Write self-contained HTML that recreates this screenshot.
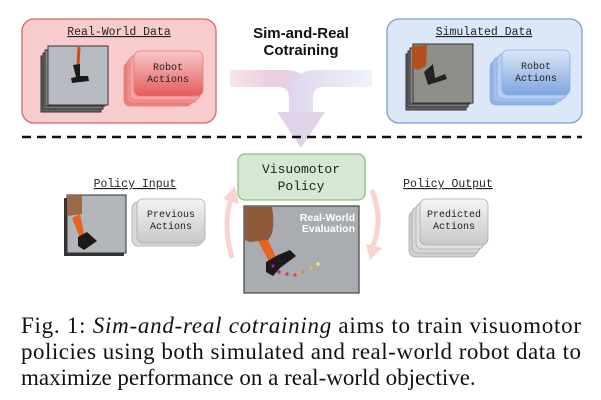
<!DOCTYPE html>
<html><head><meta charset="utf-8"><style>
html,body{margin:0;padding:0;background:#fff;}
svg{display:block;}
.m{font-family:"Liberation Mono",monospace;}
.s{font-family:"Liberation Sans",sans-serif;}
.r{font-family:"Liberation Serif",serif;}
</style></head><body>
<svg width="601" height="400" viewBox="0 0 601 400" xmlns="http://www.w3.org/2000/svg">
<defs>
<linearGradient id="gr" x1="0" y1="0" x2="0" y2="1"><stop offset="0" stop-color="#f8c9c9"/><stop offset="1" stop-color="#e55a5a"/></linearGradient>
<linearGradient id="gb" x1="0" y1="0" x2="0" y2="1"><stop offset="0" stop-color="#dbe7f8"/><stop offset="1" stop-color="#7ea4df"/></linearGradient>
<linearGradient id="gg" x1="0" y1="0" x2="0" y2="1"><stop offset="0" stop-color="#f4f4f4"/><stop offset="1" stop-color="#c8c8c8"/></linearGradient>
<linearGradient id="pl" x1="0" y1="0" x2="1" y2="0"><stop offset="0" stop-color="#fbe3e6"/><stop offset="0.5" stop-color="#e9cfe0"/><stop offset="1" stop-color="#e0d6ec"/></linearGradient>
<linearGradient id="pr" x1="0" y1="0" x2="1" y2="0"><stop offset="0" stop-color="#e0d6ec"/><stop offset="1" stop-color="#eef3fc"/></linearGradient>
</defs>

<rect x="22" y="19" width="194" height="104" rx="12" fill="#f8cccc" stroke="#d46a6a" stroke-width="1.3"/>
<text x="119" y="35" class="m" font-size="11.5" text-anchor="middle" fill="#222" text-decoration="underline">Real-World Data</text>
<g stroke="#333" stroke-width="1">
<rect x="41" y="56" width="60" height="56" fill="#666"/>
<rect x="43" y="53" width="60" height="56" fill="#777"/>
<rect x="45" y="50" width="60" height="56" fill="#888"/>
<rect x="48" y="46" width="60" height="59" fill="#b8bcc2"/>
</g>
<line x1="79" y1="47" x2="78" y2="66" stroke="#d24a20" stroke-width="3"/>
<path d="M73 65 L80 64 L80 76 L88 76 L89 81 L72 83 L71 78 L76 77 Z" fill="#1a1a1a"/>
<g stroke="#e67c7c" stroke-width="0.8">
<rect x="124" y="62" width="68" height="44" rx="6" fill="#ec7b7b"/>
<rect x="127" y="58" width="70" height="45" rx="6" fill="#ef8f8f"/>
<rect x="130" y="55" width="70" height="45" rx="6" fill="#f3a3a3"/>
<rect x="134" y="51" width="69" height="45" rx="6" fill="url(#gr)"/>
</g>
<text x="168" y="70" class="m" font-size="10" text-anchor="middle" fill="#222">Robot</text>
<text x="168" y="82" class="m" font-size="10" text-anchor="middle" fill="#222">Actions</text>

<rect x="387" y="19" width="195" height="104" rx="12" fill="#dce8f8" stroke="#7d9fd6" stroke-width="1.3"/>
<text x="484" y="35" class="m" font-size="11.5" text-anchor="middle" fill="#222" text-decoration="underline">Simulated Data</text>
<g stroke="#333" stroke-width="1">
<rect x="406" y="54" width="60" height="56" fill="#666"/>
<rect x="408" y="51" width="60" height="56" fill="#777"/>
<rect x="410" y="48" width="60" height="56" fill="#888"/>
<rect x="413" y="44" width="60" height="59" fill="#8f8f8a"/>
</g>
<path d="M412 46 L427 45 L426 66 L418 70 L412 68 Z" fill="#b4501c"/>
<path d="M424 72 L433 64 L435 78 L445 74 L447 79 L428 85 Z" fill="#222"/>
<g stroke="#8aaee0" stroke-width="0.8">
<rect x="490" y="61" width="68" height="44" rx="6" fill="#8fb2e6"/>
<rect x="493" y="57" width="70" height="45" rx="6" fill="#a2c0eb"/>
<rect x="497" y="54" width="70" height="45" rx="6" fill="#b7cef0"/>
<rect x="502" y="50" width="68" height="45" rx="6" fill="url(#gb)"/>
</g>
<text x="536" y="69" class="m" font-size="10" text-anchor="middle" fill="#222">Robot</text>
<text x="536" y="81" class="m" font-size="10" text-anchor="middle" fill="#222">Actions</text>

<text x="301" y="38" class="s" font-size="15" font-weight="bold" text-anchor="middle" fill="#111">Sim-and-Real</text>
<text x="301" y="55" class="s" font-size="15" font-weight="bold" text-anchor="middle" fill="#111">Cotraining</text>

<path d="M230 70 L285 70 Q313 70 313 100 L313 112 L289 112 L289 98 Q289 87 278 87 L230 87 Z" fill="url(#pl)"/>
<path d="M372 70 L317 70 Q289 70 289 100 L289 112 L313 112 L313 98 Q313 87 324 87 L372 87 Z" fill="url(#pr)"/>
<path d="M277 112 L325 112 L301 148 Z" fill="#e0d4ea"/>

<line x1="22" y1="137" x2="582" y2="137" stroke="#111" stroke-width="2.5" stroke-dasharray="9,6"/>

<rect x="238" y="154" width="127" height="46" rx="7" fill="#d5e8d4" stroke="#8dc07e" stroke-width="1.3"/>
<text x="301" y="173" class="m" font-size="13" text-anchor="middle" fill="#222">Visuomotor</text>
<text x="301" y="190" class="m" font-size="13" text-anchor="middle" fill="#222">Policy</text>

<text x="135" y="187" class="m" font-size="11.5" text-anchor="middle" fill="#222" text-decoration="underline">Policy Input</text>
<rect x="64" y="198" width="60" height="58" fill="#333"/>
<rect x="67" y="195" width="59" height="58" fill="#b3b6ba" stroke="#333"/>
<path d="M67 195 L82 195 L82 214 L67 216 Z" fill="#9a6a48"/>
<path d="M72 218 L80 214 L85 238 L81 240 Z" fill="#e8631e"/>
<path d="M78 237 L87 232 L97 241 L84 250 L78 246 Z" fill="#1a1a1a"/>
<g stroke="#aaa" stroke-width="0.8">
<rect x="132" y="202" width="70" height="44" rx="6" fill="#d8d8d8"/>
<rect x="137" y="199" width="68" height="44" rx="6" fill="url(#gg)"/>
</g>
<text x="171" y="217" class="m" font-size="10" text-anchor="middle" fill="#222">Previous</text>
<text x="171" y="229" class="m" font-size="10" text-anchor="middle" fill="#222">Actions</text>

<rect x="244" y="206" width="115" height="87" fill="#a9acb0" stroke="#444" stroke-width="1.2"/>
<path d="M245 207 L272 207 Q276 232 268 240 L250 242 L245 240 Z" fill="#8f5a3a"/>
<path d="M258 241 L268 240 L278 262 L271 265 Z" fill="#e8631e"/>
<path d="M266 262 L278 255 L290 250 L296 256 L280 268 L273 276 L266 272 Z" fill="#1a1a1a"/>
<g>
<circle cx="273" cy="266" r="1.6" fill="#a020a0"/><circle cx="279" cy="272" r="1.6" fill="#b02090"/>
<circle cx="287" cy="274" r="1.6" fill="#d03070"/><circle cx="295" cy="275" r="1.6" fill="#e84040"/>
<circle cx="303" cy="272" r="1.6" fill="#f08020"/><circle cx="311" cy="268" r="1.6" fill="#f0c040"/>
<circle cx="318" cy="264" r="1.6" fill="#f8f070"/>
</g>
<text x="355" y="221" class="s" font-size="10.5" font-weight="bold" text-anchor="end" fill="#fff">Real-World</text>
<text x="355" y="232" class="s" font-size="10.5" font-weight="bold" text-anchor="end" fill="#fff">Evaluation</text>

<path d="M232 258 Q222 222 232 196" fill="none" stroke="#f8d3d0" stroke-width="5"/>
<path d="M223 199 L235 186 L239 204 Z" fill="#f8d3d0"/>
<path d="M372 190 Q384 222 372 248" fill="none" stroke="#f8d3d0" stroke-width="5"/>
<path d="M366 244 L370 260 L382 248 Z" fill="#f8d3d0"/>

<text x="448" y="187" class="m" font-size="11.5" text-anchor="middle" fill="#222" text-decoration="underline">Policy Output</text>
<g stroke="#aaa" stroke-width="0.8">
<rect x="409" y="211" width="68" height="46" rx="6" fill="#cfcfcf"/>
<rect x="412" y="207" width="68" height="46" rx="6" fill="#d8d8d8"/>
<rect x="416" y="203" width="68" height="46" rx="6" fill="#e0e0e0"/>
<rect x="420" y="199" width="68" height="46" rx="6" fill="url(#gg)"/>
</g>
<text x="454" y="217" class="m" font-size="10" text-anchor="middle" fill="#222">Predicted</text>
<text x="454" y="229" class="m" font-size="10" text-anchor="middle" fill="#222">Actions</text>

<text x="21" y="333" class="r" font-size="23" fill="#111" textLength="560" lengthAdjust="spacing">Fig. 1: <tspan font-style="italic">Sim-and-real cotraining</tspan> aims to train visuomotor</text>
<text x="21" y="359" class="r" font-size="23" fill="#111" textLength="560" lengthAdjust="spacing">policies using both simulated and real-world robot data to</text>
<text x="21" y="385" class="r" font-size="23" fill="#111">maximize performance on a real-world objective.</text>
</svg>
</body></html>
